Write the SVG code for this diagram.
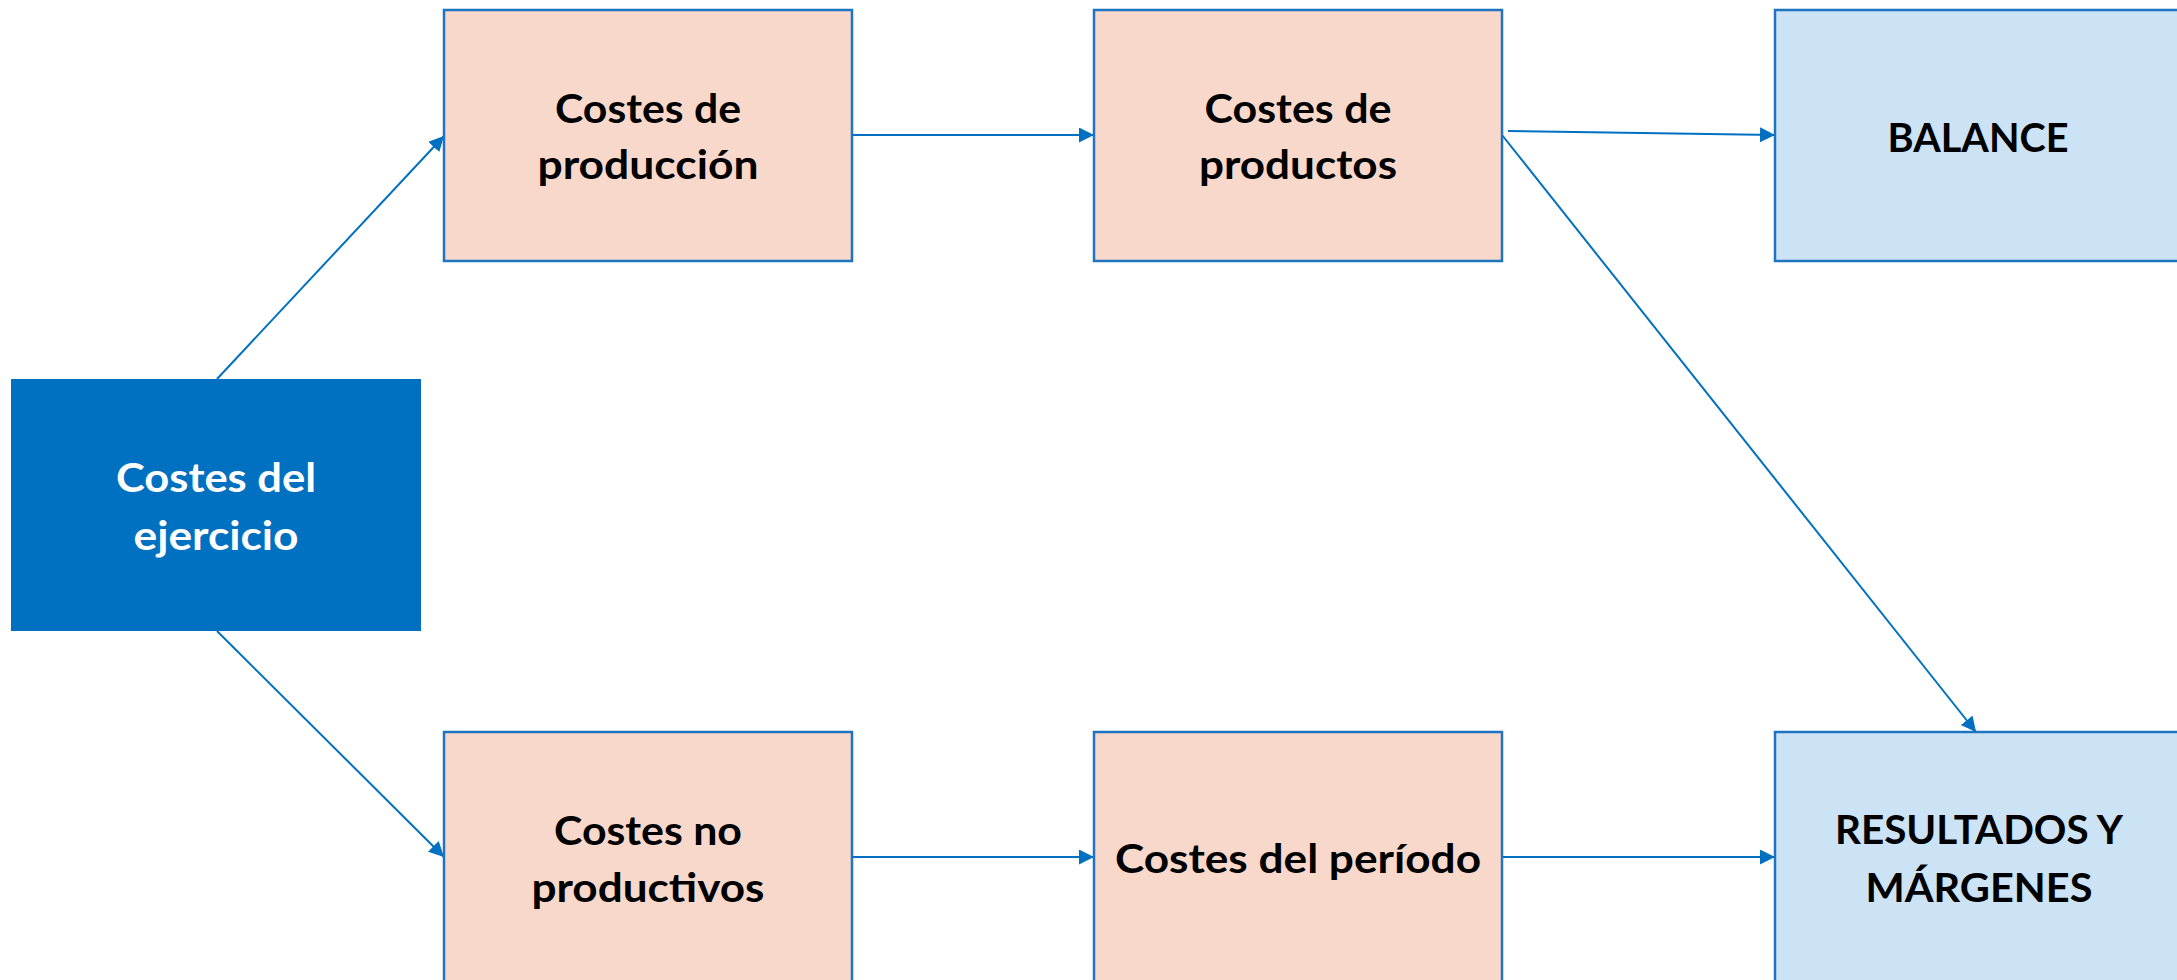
<svg xmlns="http://www.w3.org/2000/svg" width="2177" height="980" viewBox="0 0 2177 980">
<defs>
<marker id="ah" markerUnits="userSpaceOnUse" markerWidth="16" markerHeight="16" refX="15" refY="7.5" orient="auto">
<path d="M0,0 L15,7.5 L0,15 z" fill="#0070C0"/>
</marker>
<style>
.box{stroke:#1F74C2;stroke-width:2.5}
.peach{fill:#F7D8CB}
.lblue{fill:#CCE3F5}
.main{fill:#0070C0;stroke:none}
.t{font-family:Lato,"Open Sans","Liberation Sans",sans-serif;font-weight:700;font-size:41px;text-anchor:middle;fill:#000}
.w{fill:#fff}
.c{stroke:#0070C0;stroke-width:2;fill:none;marker-end:url(#ah)}
</style>
</defs>
<rect width="2177" height="980" fill="#fff"/>
<g id="connectors">
<line class="c" x1="217" y1="379" x2="444" y2="136"/>
<line class="c" x1="217" y1="631" x2="444" y2="857"/>
<line class="c" x1="852" y1="135" x2="1094" y2="135"/>
<line class="c" x1="1508" y1="131" x2="1775" y2="135"/>
<line class="c" x1="1502" y1="135" x2="1976" y2="732"/>
<line class="c" x1="848" y1="857" x2="1094" y2="857"/>
<line class="c" x1="1502" y1="857" x2="1775" y2="857"/>
</g>
<g id="n-ejercicio">
<rect class="main" x="11" y="379" width="410" height="252"/>
<text class="t w" x="216" y="492" textLength="200" lengthAdjust="spacingAndGlyphs">Costes del</text>
<text class="t w" x="216" y="550" textLength="165" lengthAdjust="spacingAndGlyphs">ejercicio</text>
</g>
<g id="n-produccion">
<rect class="box peach" x="444" y="10" width="408" height="251"/>
<text class="t" x="648" y="123" textLength="186" lengthAdjust="spacingAndGlyphs">Costes de</text>
<text class="t" x="648" y="179" textLength="221" lengthAdjust="spacingAndGlyphs">producción</text>
</g>
<g id="n-productos">
<rect class="box peach" x="1094" y="10" width="408" height="251"/>
<text class="t" x="1298" y="123" textLength="187" lengthAdjust="spacingAndGlyphs">Costes de</text>
<text class="t" x="1298" y="179" textLength="198" lengthAdjust="spacingAndGlyphs">productos</text>
</g>
<g id="n-balance">
<rect class="box lblue" x="1775" y="10" width="420" height="251"/>
<text class="t" x="1978" y="152" textLength="181" lengthAdjust="spacingAndGlyphs">BALANCE</text>
</g>
<g id="n-noproductivos">
<rect class="box peach" x="444" y="732" width="408" height="270"/>
<text class="t" x="648" y="845" textLength="188" lengthAdjust="spacingAndGlyphs">Costes no</text>
<text class="t" x="648" y="902" textLength="233" lengthAdjust="spacingAndGlyphs">productivos</text>
</g>
<g id="n-periodo">
<rect class="box peach" x="1094" y="732" width="408" height="270"/>
<text class="t" x="1298" y="873" textLength="366" lengthAdjust="spacingAndGlyphs">Costes del período</text>
</g>
<g id="n-resultados">
<rect class="box lblue" x="1775" y="732" width="420" height="270"/>
<text class="t" x="1979" y="844" textLength="288" lengthAdjust="spacingAndGlyphs">RESULTADOS Y</text>
<text class="t" x="1979" y="902" textLength="227" lengthAdjust="spacingAndGlyphs">MÁRGENES</text>
</g>
</svg>
